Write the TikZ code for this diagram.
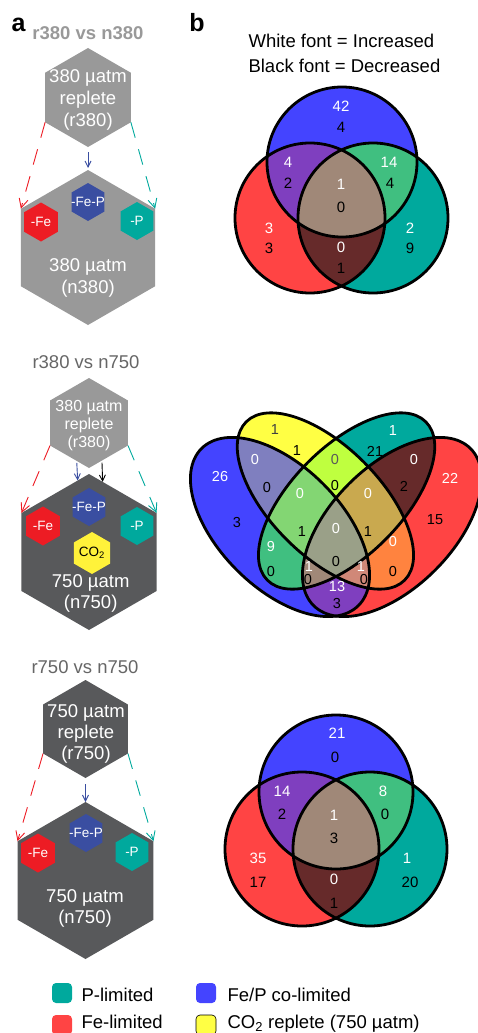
\documentclass[tikz,border=0pt]{standalone}
\usepackage{fontspec}
\setmainfont{Liberation Sans}
\usetikzlibrary{shapes.geometric,arrows.meta}

\definecolor{hexgray}{HTML}{999999}
\definecolor{hexdark}{HTML}{58595B}
\definecolor{feRed}{HTML}{ED1C24}
\definecolor{fepBlue}{HTML}{3A4EA1}
\definecolor{pTeal}{HTML}{00A99D}
\definecolor{co2Yellow}{HTML}{FFF23A}
\definecolor{vBlue}{HTML}{4444FF}
\definecolor{vRed}{HTML}{FF4444}
\definecolor{vTeal}{HTML}{00A99D}
\definecolor{vYellow}{HTML}{FFFF44}
\definecolor{vBR}{HTML}{7F3FBF}
\definecolor{vBT}{HTML}{40BF80}
\definecolor{vRT}{HTML}{662A2A}
\definecolor{vBRT}{HTML}{A08878}
\definecolor{vBY}{HTML}{7F7FBF}
\definecolor{vYT}{HTML}{BFFF3F}
\definecolor{vYR}{HTML}{FF833F}
\definecolor{vBYT}{HTML}{83D673}
\definecolor{vYTR}{HTML}{C9A94F}
\definecolor{vBYR}{HTML}{D08878}
\definecolor{vAll}{HTML}{9AA088}

\begin{document}
\begin{tikzpicture}[x=1pt, y=-1pt,
    hexnode/.style={regular polygon, regular polygon sides=6, shape border rotate=30, inner sep=0pt, outer sep=0pt, draw=none},
    hextext/.style={text=white, align=center, font=\fontsize{18.5}{22}\selectfont},
    smalltext/.style={text=white, font=\fontsize{13.5}{16}\selectfont},
    paneltitle/.style={anchor=base, font=\fontsize{18.5}{22}\selectfont, text=gray!80!black},
    dasharrow/.style={-{Straight Barb[length=9pt,width=9pt]}, dash pattern=on 16pt off 12pt, line width=0.9pt},
    solidarrow/.style={-{Straight Barb[length=6pt,width=6pt]}, line width=0.9pt},
    wnum/.style={text=white, font=\fontsize{15}{18}\selectfont},
    bnum/.style={text=black, font=\fontsize{15}{18}\selectfont},
    qnum/.style={font=\fontsize{14.5}{17}\selectfont},
    venn/.style={draw=black, line width=2.8pt},
    legbox/.style={rounded corners=4pt, minimum size=20pt, inner sep=0pt},
    legtext/.style={anchor=base west, font=\fontsize{18.5}{22}\selectfont},
    eA/.style={shift={(280,527)}, rotate=-45, x radius=111, y radius=61},
    eB/.style={shift={(325.4,501)}, rotate=-45, x radius=112, y radius=54.7},
    eC/.style={shift={(346.6,501)}, rotate=45, x radius=112, y radius=54.7},
    eD/.style={shift={(392,527)}, rotate=45, x radius=111, y radius=61},
]
\useasboundingbox (0,0) rectangle (478,1033);

% Panel labels
\node[anchor=base, font=\fontsize{25}{28}\selectfont\bfseries] (pa) at (18.5,32) {a};
\node[anchor=base, font=\fontsize{25}{28}\selectfont\bfseries] (pb) at (197,32) {b};
\node[legtext] (keyw) at (245,48) {White font = Increased};
\node[legtext] (keyb) at (245,72.5) {Black font = Decreased};

% r380 vs n380
\node[paneltitle, text=hexgray, font=\fontsize{18.5}{22}\selectfont\bfseries] (t1) at (88,40) {r380 vs n380};
\node[hexnode, fill=hexgray, minimum size=99pt] (top1) at (88,97.5) {};
\node[hextext] (top1txt) at (88,100.4) {380 µatm\\replete\\(r380)};
\node[hexnode, fill=hexgray, minimum size=155pt] (bot1) at (88,247.5) {};
\node[hexnode, fill=feRed, minimum size=39pt] (fe1) at (41,222) {};
\node[hexnode, fill=fepBlue, minimum size=38pt] (fep1) at (88,202) {};
\node[hexnode, fill=pTeal, minimum size=38pt] (p1) at (137,221) {};
\node[smalltext] (fe1txt) at (fe1) {-Fe};
\node[smalltext] (fep1txt) at (fep1) {-Fe-P};
\node[smalltext] (p1txt) at (p1) {-P};
\node[hextext] (bot1txt) at (88,278.4) {380 µatm\\(n380)};
\draw[dasharrow, feRed] (top1.210) -- (bot1.150);
\draw[dasharrow, pTeal] (top1.330) -- (bot1.30);
\draw[solidarrow, fepBlue, shorten <=5pt, shorten >=2pt] (top1.south) -- (bot1.north);

% r380 vs n750
\node[paneltitle] (t2) at (86,368) {r380 vs n750};
\node[hexnode, fill=hexgray, minimum size=90pt] (top2) at (89,423) {};
\node[hextext, font=\fontsize{16}{18}\selectfont] (top2txt) at (89,425.6) {380 µatm\\replete\\(r380)};
\node[hexnode, fill=hexdark, minimum size=156pt] (bot2) at (89,552) {};
\node[hexnode, fill=feRed, minimum size=39pt] (fe2) at (43,526) {};
\node[hexnode, fill=fepBlue, minimum size=38pt] (fep2) at (89,507) {};
\node[hexnode, fill=pTeal, minimum size=38pt] (p2) at (137,526) {};
\node[hexnode, fill=co2Yellow, minimum size=42pt] (co2) at (92,553) {};
\node[smalltext] (fe2txt) at (fe2) {-Fe};
\node[smalltext] (fep2txt) at (fep2) {-Fe-P};
\node[smalltext] (p2txt) at (p2) {-P};
\node[smalltext, text=black] (co2txt) at (co2) {CO\textsubscript{2}};
\node[hextext, font=\fontsize{18.5}{21}\selectfont] (bot2txt) at (90.7,593.8) {750 µatm\\(n750)};
\draw[dasharrow, feRed] (top2.210) -- (bot2.150);
\draw[dasharrow, pTeal] (top2.330) -- (bot2.30);
\draw[solidarrow, fepBlue, shorten <=2pt] (top2.252.5) -- (bot2.99.6);
\draw[solidarrow, black, shorten <=2pt] (top2.289.1) -- (bot2.79.6);

% r750 vs n750
\node[paneltitle] (t3) at (85,673) {r750 vs n750};
\node[hexnode, fill=hexdark, minimum size=98pt] (top3) at (85.5,729) {};
\node[hextext, font=\fontsize{18.5}{21}\selectfont] (top3txt) at (86,734) {750 µatm\\replete\\(r750)};
\node[hexnode, fill=hexdark, minimum size=157pt] (bot3) at (85.5,880.5) {};
\node[hexnode, fill=feRed, minimum size=39pt] (fe3) at (38,853) {};
\node[hexnode, fill=fepBlue, minimum size=38pt] (fep3) at (86,833) {};
\node[hexnode, fill=pTeal, minimum size=38pt] (p3) at (132,852) {};
\node[smalltext] (fe3txt) at (fe3) {-Fe};
\node[smalltext] (fep3txt) at (fep3) {-Fe-P};
\node[smalltext] (p3txt) at (p3) {-P};
\node[hextext, font=\fontsize{18.5}{21}\selectfont] (bot3txt) at (85,908.5) {750 µatm\\(n750)};
\draw[dasharrow, feRed] (top3.210) -- (bot3.150);
\draw[dasharrow, pTeal] (top3.330) -- (bot3.30);
\draw[solidarrow, fepBlue, shorten <=6pt] (top3.south) -- (bot3.north);

% Three-set Venns
\foreach \bx/\by/\rx/\tx/\ty/\r in {342/162/310/373/218/75, 336/792/302/370/849/77} {
    \fill[vBlue] (\bx,\by) circle [radius=\r];
    \fill[vRed] (\rx,\ty) circle [radius=\r];
    \fill[vTeal] (\tx,\ty) circle [radius=\r];
    \begin{scope}
        \clip (\bx,\by) circle [radius=\r];
        \fill[vBR] (\rx,\ty) circle [radius=\r];
        \fill[vBT] (\tx,\ty) circle [radius=\r];
    \end{scope}
    \begin{scope}
        \clip (\rx,\ty) circle [radius=\r];
        \fill[vRT] (\tx,\ty) circle [radius=\r];
    \end{scope}
    \begin{scope}
        \clip (\bx,\by) circle [radius=\r];
        \clip (\rx,\ty) circle [radius=\r];
        \fill[vBRT] (\tx,\ty) circle [radius=\r];
    \end{scope}
    \draw[venn] (\bx,\by) circle [radius=\r];
    \draw[venn] (\rx,\ty) circle [radius=\r];
    \draw[venn] (\tx,\ty) circle [radius=\r];
}
\foreach \x/\y/\t [count=\k] in {341/106/42, 288/162/4, 389/162/14, 341/184/1, 269/228/3, 410/228/2, 341/247/0,
    337/733/21, 282/791/14, 383/791/8, 334/815/1, 258/858/35, 407/858/1, 334/879/0}
    \node[wnum] (tw\k) at (\x,\y) {\t};
\foreach \x/\y/\t [count=\k] in {341/127/4, 288/183/2, 390/183/4, 341/207/0, 269/248/3, 410/248/9, 341/268/1,
    335/757/0, 282/814/2, 385/814/0, 334/838/3, 258/882/17, 410/882/20, 334/903/1}
    \node[bnum] (tb\k) at (\x,\y) {\t};

% Four-set Venn, r380 vs n750
\fill[eA, fill=vBlue] (0,0) ellipse [];
\fill[eB, fill=vYellow] (0,0) ellipse [];
\fill[eC, fill=vTeal] (0,0) ellipse [];
\fill[eD, fill=vRed] (0,0) ellipse [];
% pairs
\begin{scope}
    \clip[eA] (0,0) ellipse [];
    \fill[eB, fill=vBY] (0,0) ellipse [];
    \fill[eC, fill=vBT] (0,0) ellipse [];
    \fill[eD, fill=vBR] (0,0) ellipse [];
\end{scope}
\begin{scope}
    \clip[eB] (0,0) ellipse [];
    \fill[eC, fill=vYT] (0,0) ellipse [];
    \fill[eD, fill=vYR] (0,0) ellipse [];
\end{scope}
\begin{scope}
    \clip[eC] (0,0) ellipse [];
    \fill[eD, fill=vRT] (0,0) ellipse [];
\end{scope}
% triples
\begin{scope}
    \clip[eA] (0,0) ellipse [];
    \clip[eB] (0,0) ellipse [];
    \fill[eC, fill=vBYT] (0,0) ellipse [];
    \fill[eD, fill=vBYR] (0,0) ellipse [];
\end{scope}
\begin{scope}
    \clip[eA] (0,0) ellipse [];
    \clip[eC] (0,0) ellipse [];
    \fill[eD, fill=vBRT] (0,0) ellipse [];
\end{scope}
\begin{scope}
    \clip[eB] (0,0) ellipse [];
    \clip[eC] (0,0) ellipse [];
    \fill[eD, fill=vYTR] (0,0) ellipse [];
\end{scope}
% all four
\begin{scope}
    \clip[eA] (0,0) ellipse [];
    \clip[eB] (0,0) ellipse [];
    \clip[eC] (0,0) ellipse [];
    \fill[eD, fill=vAll] (0,0) ellipse [];
\end{scope}
\draw[venn, eA] (0,0) ellipse [];
\draw[venn, eB] (0,0) ellipse [];
\draw[venn, eC] (0,0) ellipse [];
\draw[venn, eD] (0,0) ellipse [];
\foreach \x/\y/\t/\c [count=\k] in {275/430/1/black!75, 393/431/1/white, 255/460/0/white, 335/460/0/black!65,
    414/460/0/white, 220/477/26/white, 450/478/22/white, 300/494/0/white, 368/494/0/white, 336/529/0/white,
    271/547/9/white, 393/542/0/white, 309/567/1/white, 361/567/1/white, 337/587/13/white}
    \node[qnum, text=\c] (qw\k) at (\x,\y) {\t};
\foreach \x/\y/\t [count=\k] in {297/451/1, 375/451/21, 267/488/0, 335/486/0, 404/486/2, 237/523/3, 435/520/15,
    302/532/1, 368/532/1, 336/562/0, 271/572/0, 393/572/0, 308/580/0, 364/580/0, 337/604/3}
    \node[qnum] (qb\k) at (\x,\y) {\t};

% Legend
\node[legbox, fill=vTeal] (lgP) at (62,993) {};
\node[legtext] (lgPtxt) at (78,1001) {P-limited};
\node[legbox, fill=vBlue] (lgFeP) at (206,993) {};
\node[legtext] (lgFePtxt) at (224,1001) {Fe/P co-limited};
\node[legbox, fill=vRed] (lgFe) at (62,1025) {};
\node[legtext] (lgFetxt) at (78,1028.5) {Fe-limited};
\node[legbox, fill=vYellow, draw=black, line width=0.6pt] (lgCO) at (206,1025) {};
\node[legtext] (lgCOtxt) at (224,1028.5) {CO\textsubscript{2} replete (750 µatm)};
\end{tikzpicture}
\end{document}
